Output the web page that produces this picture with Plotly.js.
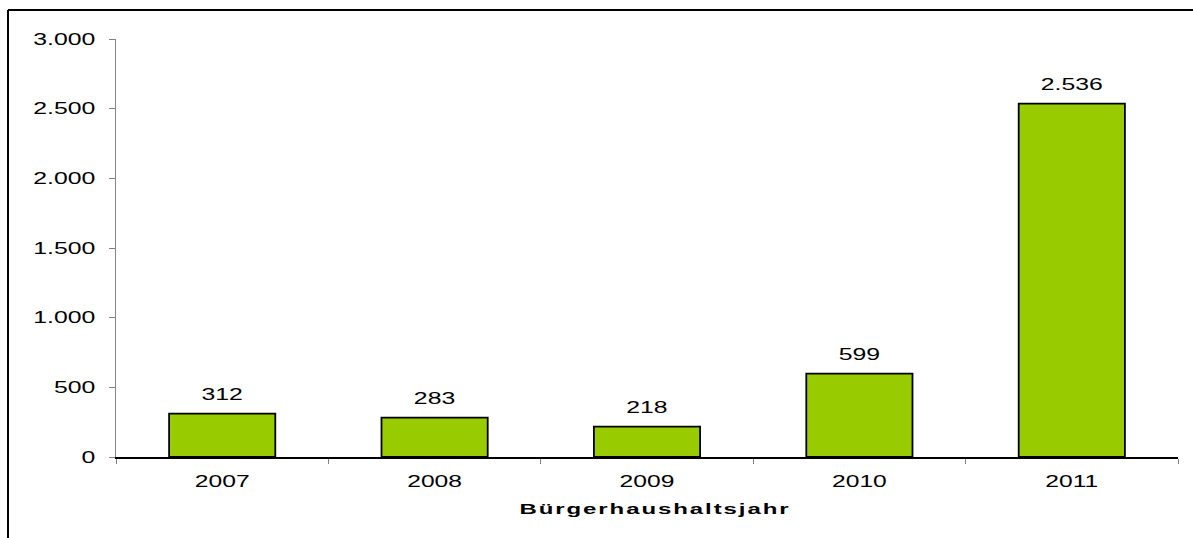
<!DOCTYPE html>
<html>
<head>
<meta charset="utf-8">
<script src="https://cdn.plot.ly/plotly-3.0.1.min.js"></script>
<style>html,body{margin:0;padding:0;background:#fff;}#chart{width:1193px;height:538px;}</style>
</head>
<body>
<div id="chart"></div>
<script>
const years = ['2007', '2008', '2009', '2010', '2011'];
const values = [312, 283, 218, 599, 2536];
const yTicks = [0, 500, 1000, 1500, 2000, 2500, 3000];

const FONT = 'Liberation Sans, Arial, sans-serif';

const trace = {
  type: 'bar',
  x: years,
  y: values,
  marker: {color: '#99CC00', line: {color: '#000000', width: 1.8}},
  texttemplate: '%{y:,d}',
  textposition: 'outside',
  cliponaxis: false,
  textfont: {family: FONT, size: 16, color: '#000'},
  hoverinfo: 'skip'
};

const layout = {
  width: 1193, height: 538,
  margin: {l: 116, r: 15, t: 39, b: 81},
  paper_bgcolor: '#fff', plot_bgcolor: '#fff',
  separators: ',.',
  showlegend: false,
  bargap: 0.5,
  font: {family: FONT, color: '#000'},
  xaxis: {
    type: 'category',
    tickson: 'boundaries',
    ticks: 'outside', ticklen: 5, tickcolor: '#808080', tickwidth: 1,
    showline: true, linecolor: '#000', linewidth: 1.5,
    showgrid: false, zeroline: false,
    tickfont: {size: 17, color: '#000'},
    ticklabelstandoff: 8,
    title: {text: '<b>Bürgerhaushaltsjahr</b>', font: {size: 15, color: '#000'}, standoff: 13}
  },
  yaxis: {
    range: [0, 3000],
    tickvals: yTicks,
    tickformat: ',d',
    ticks: 'outside', ticklen: 6, tickcolor: '#808080', tickwidth: 1,
    showline: true, linecolor: '#868686', linewidth: 1.5,
    showgrid: false, zeroline: false,
    tickfont: {size: 16, color: '#000'},
    ticklabelstandoff: 10
  },
  shapes: [
    {type: 'line', xref: 'paper', yref: 'paper', x0: (8-116)/1062, x1: (1193-116)/1062, y0: (457-10)/418, y1: (457-10)/418, line: {color: '#000', width: 2}},
    {type: 'line', xref: 'paper', yref: 'paper', x0: (8-116)/1062, x1: (8-116)/1062, y0: (457-10)/418, y1: (457-540)/418, line: {color: '#000', width: 2}}
  ]
};

function stretch(el, sx, anchor, dy, dx) {
  const bb = el.getBBox();
  const cx = anchor === 'end' ? bb.x + bb.width : bb.x + bb.width / 2;
  const t = el.getAttribute('transform') || '';
  el.setAttribute('transform', t + ' translate(' + (cx + (dx || 0)) + ',' + (dy || 0) + ') scale(' + sx + ',1) translate(' + (-cx) + ',0)');
}

Plotly.newPlot('chart', [trace], layout, {displayModeBar: false, staticPlot: true}).then(function (gd) {
  try {
    gd.querySelectorAll('.ytick text').forEach(function (el) { stretch(el, 1.55, 'end', 0); });
    gd.querySelectorAll('.xtick text').forEach(function (el) { stretch(el, 1.45, 'middle', 0); });
    gd.querySelectorAll('text.bartext').forEach(function (el) { stretch(el, 1.55, 'middle', -8); });
    gd.querySelectorAll('text.xtitle').forEach(function (el) {
      el.style.letterSpacing = '1.2px';
      stretch(el, 1.6, 'middle', 0, 8);
    });
  } catch (e) { console.error(e); }
});
</script>
</body>
</html>
